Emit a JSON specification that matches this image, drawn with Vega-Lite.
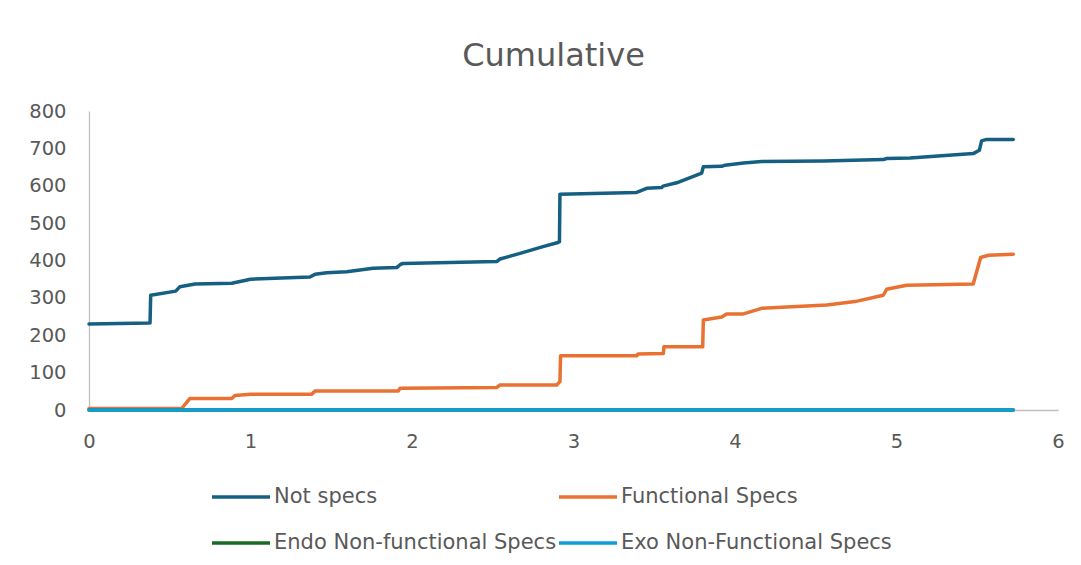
{
  "$schema": "https://vega.github.io/schema/vega-lite/v6.json",
  "width": 969,
  "height": 299,
  "autosize": {"type": "none"},
  "padding": {"left": 89, "top": 111, "right": 23, "bottom": 155},
  "background": "white",
  "title": {
    "text": "Cumulative",
    "fontSize": 32,
    "font": "DejaVu Sans",
    "fontWeight": "normal",
    "color": "#595959",
    "anchor": "middle",
    "dx": -20,
    "offset": 3,
    "baseline": "alphabetic"
  },
  "config": {
    "view": {"stroke": null},
    "font": "DejaVu Sans"
  },
  "data": {
    "values": [
      {"series": "Not specs", "x": 0, "y": 230},
      {"series": "Not specs", "x": 0.378, "y": 233},
      {"series": "Not specs", "x": 0.382, "y": 307},
      {"series": "Not specs", "x": 0.537, "y": 318},
      {"series": "Not specs", "x": 0.563, "y": 330},
      {"series": "Not specs", "x": 0.656, "y": 337},
      {"series": "Not specs", "x": 0.884, "y": 339},
      {"series": "Not specs", "x": 1.0, "y": 350},
      {"series": "Not specs", "x": 1.368, "y": 356},
      {"series": "Not specs", "x": 1.399, "y": 363},
      {"series": "Not specs", "x": 1.472, "y": 367},
      {"series": "Not specs", "x": 1.596, "y": 370},
      {"series": "Not specs", "x": 1.759, "y": 379},
      {"series": "Not specs", "x": 1.905, "y": 381},
      {"series": "Not specs", "x": 1.93, "y": 390},
      {"series": "Not specs", "x": 1.944, "y": 392},
      {"series": "Not specs", "x": 2.524, "y": 397},
      {"series": "Not specs", "x": 2.545, "y": 404},
      {"series": "Not specs", "x": 2.669, "y": 419},
      {"series": "Not specs", "x": 2.811, "y": 437},
      {"series": "Not specs", "x": 2.904, "y": 448},
      {"series": "Not specs", "x": 2.913, "y": 450},
      {"series": "Not specs", "x": 2.916, "y": 577},
      {"series": "Not specs", "x": 3.391, "y": 582},
      {"series": "Not specs", "x": 3.453, "y": 593},
      {"series": "Not specs", "x": 3.546, "y": 595},
      {"series": "Not specs", "x": 3.554, "y": 599},
      {"series": "Not specs", "x": 3.639, "y": 608},
      {"series": "Not specs", "x": 3.794, "y": 634},
      {"series": "Not specs", "x": 3.804, "y": 651},
      {"series": "Not specs", "x": 3.918, "y": 652},
      {"series": "Not specs", "x": 3.938, "y": 655},
      {"series": "Not specs", "x": 4.052, "y": 661},
      {"series": "Not specs", "x": 4.165, "y": 665},
      {"series": "Not specs", "x": 4.547, "y": 666},
      {"series": "Not specs", "x": 4.918, "y": 670},
      {"series": "Not specs", "x": 4.939, "y": 673},
      {"series": "Not specs", "x": 5.084, "y": 674},
      {"series": "Not specs", "x": 5.475, "y": 686},
      {"series": "Not specs", "x": 5.513, "y": 695},
      {"series": "Not specs", "x": 5.527, "y": 720},
      {"series": "Not specs", "x": 5.559, "y": 724},
      {"series": "Not specs", "x": 5.723, "y": 724},
      {"series": "Functional Specs", "x": 0, "y": 4},
      {"series": "Functional Specs", "x": 0.574, "y": 4},
      {"series": "Functional Specs", "x": 0.625, "y": 31},
      {"series": "Functional Specs", "x": 0.884, "y": 31},
      {"series": "Functional Specs", "x": 0.904, "y": 39},
      {"series": "Functional Specs", "x": 1.0, "y": 42},
      {"series": "Functional Specs", "x": 1.379, "y": 42},
      {"series": "Functional Specs", "x": 1.399, "y": 51},
      {"series": "Functional Specs", "x": 1.915, "y": 51},
      {"series": "Functional Specs", "x": 1.926, "y": 58},
      {"series": "Functional Specs", "x": 2.524, "y": 60},
      {"series": "Functional Specs", "x": 2.545, "y": 67},
      {"series": "Functional Specs", "x": 2.896, "y": 67},
      {"series": "Functional Specs", "x": 2.916, "y": 76},
      {"series": "Functional Specs", "x": 2.92, "y": 145},
      {"series": "Functional Specs", "x": 3.391, "y": 145},
      {"series": "Functional Specs", "x": 3.4, "y": 150},
      {"series": "Functional Specs", "x": 3.556, "y": 151},
      {"series": "Functional Specs", "x": 3.56, "y": 169},
      {"series": "Functional Specs", "x": 3.8, "y": 169},
      {"series": "Functional Specs", "x": 3.804, "y": 241},
      {"series": "Functional Specs", "x": 3.918, "y": 249},
      {"series": "Functional Specs", "x": 3.948, "y": 257},
      {"series": "Functional Specs", "x": 4.052, "y": 257},
      {"series": "Functional Specs", "x": 4.165, "y": 272},
      {"series": "Functional Specs", "x": 4.568, "y": 281},
      {"series": "Functional Specs", "x": 4.743, "y": 290},
      {"series": "Functional Specs", "x": 4.918, "y": 307},
      {"series": "Functional Specs", "x": 4.939, "y": 323},
      {"series": "Functional Specs", "x": 5.063, "y": 334},
      {"series": "Functional Specs", "x": 5.475, "y": 337},
      {"series": "Functional Specs", "x": 5.521, "y": 408},
      {"series": "Functional Specs", "x": 5.569, "y": 414},
      {"series": "Functional Specs", "x": 5.723, "y": 417},
      {"series": "Endo Non-functional Specs", "x": 0, "y": 0},
      {"series": "Endo Non-functional Specs", "x": 5.723, "y": 0},
      {"series": "Exo Non-Functional Specs", "x": 0, "y": 0},
      {"series": "Exo Non-Functional Specs", "x": 5.723, "y": 0}
    ]
  },
  "mark": {"type": "line", "strokeWidth": 3.5, "strokeCap": "round", "strokeJoin": "round", "clip": false},
  "encoding": {
    "x": {
      "field": "x",
      "type": "quantitative",
      "scale": {"domain": [0, 6], "nice": false, "zero": false},
      "axis": {
        "title": null,
        "values": [0, 1, 2, 3, 4, 5, 6],
        "ticks": false,
        "grid": false,
        "domainColor": "#BFBFBF",
        "domainWidth": 1.3,
        "labelFontSize": 19.5,
        "labelColor": "#595959",
        "labelPadding": 22,
        "labelFlush": false
      }
    },
    "y": {
      "field": "y",
      "type": "quantitative",
      "scale": {"domain": [0, 800], "nice": false},
      "axis": {
        "title": null,
        "values": [0, 100, 200, 300, 400, 500, 600, 700, 800],
        "ticks": false,
        "grid": false,
        "domainColor": "#BFBFBF",
        "domainWidth": 1.3,
        "labelFontSize": 19.5,
        "labelColor": "#595959",
        "labelPadding": 23
      }
    },
    "color": {
      "field": "series",
      "type": "nominal",
      "sort": null,
      "scale": {
        "domain": ["Not specs", "Functional Specs", "Endo Non-functional Specs", "Exo Non-Functional Specs"],
        "range": ["#156082", "#E97132", "#196B24", "#0F9ED5"]
      },
      "legend": {
        "title": null,
        "orient": "none",
        "legendX": 121,
        "legendY": 355,
        "direction": "horizontal",
        "columns": 2,
        "symbolType": "stroke",
        "symbolSize": 3364,
        "symbolStrokeWidth": 3.5,
        "labelFontSize": 21,
        "labelColor": "#595959",
        "labelOffset": 2,
        "columnPadding": -11,
        "rowPadding": 5,
        "labelLimit": 400
      }
    }
  }
}
